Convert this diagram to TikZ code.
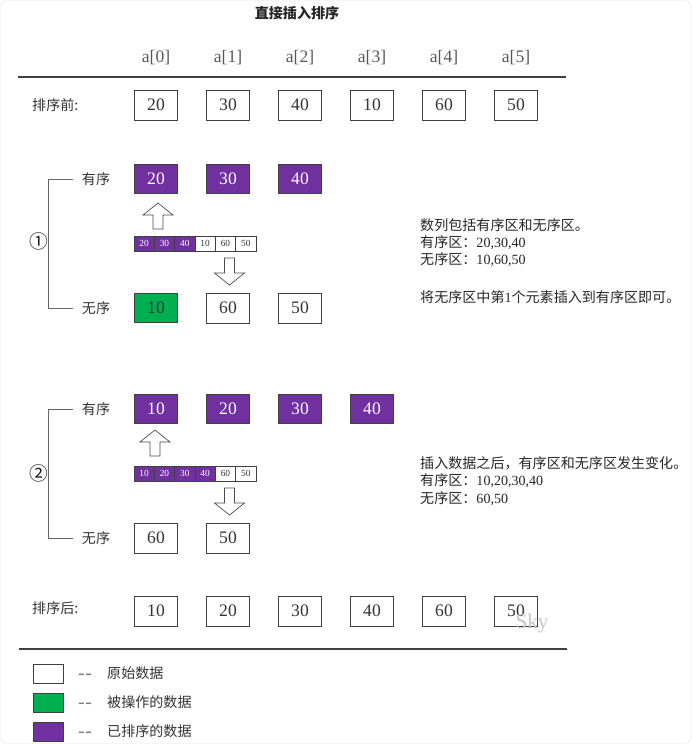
\documentclass[tikz,border=0pt]{standalone}
\usepackage{fontspec}
\setmainfont{Liberation Serif}
\newfontfamily\cjk{Noto Sans CJK SC}
\usetikzlibrary{positioning,calc}

\definecolor{sortpurple}{HTML}{7030A0}
\definecolor{opgreen}{HTML}{00B050}
\definecolor{boxline}{HTML}{404040}

\begin{document}
\begin{tikzpicture}[
  x=0.03cm, y=-0.03cm,
  every node/.style={inner sep=0pt, text=black!80},
  rawbox/.style={draw=boxline, line width=0.8pt, minimum width=1.3cm, minimum height=0.9cm,
                 font=\fontsize{15}{15}\selectfont, fill=white},
  sortbox/.style={rawbox, fill=sortpurple, text=white, minimum height=0.87cm},
  opbox/.style={rawbox, fill=opgreen, text=black!80, minimum height=0.87cm},
  cellraw/.style={draw=boxline, line width=0.5pt, minimum width=0.61cm, minimum height=0.45cm,
                  font=\fontsize{8}{8}\selectfont, fill=white},
  cellsort/.style={cellraw, fill=sortpurple, text=white},
  idx/.style={font=\fontsize{15}{15}\selectfont, text=black!65},
  lbl/.style={font=\cjk\fontsize{12}{12}\selectfont, text=black!80},
  stepno/.style={font=\cjk\fontsize{16}{16}\selectfont, text=black!90},
  notetxt/.style={anchor=west, font=\fontsize{12}{12}\selectfont, text=black!85},
  keybox/.style={draw=boxline, line width=0.6pt, minimum width=0.9cm, minimum height=0.57cm},
  hrule/.style={line width=1.6pt, black!75},
  brk/.style={line width=0.8pt, black!60},
  blockarr/.style={draw=black!70, line width=0.6pt, fill=white, line join=miter},
]
\useasboundingbox (0,0) rectangle (692,744);
\draw[black!10, rounded corners=6pt] (0.5,0.5) rectangle (691.5,743.5);

%% --- title and index row ---
\node[font=\cjk\bfseries\fontsize{12}{12}\selectfont, text=black!85] (title) at (297,13) {直接插入排序};
\foreach \n [count=\i from 0] in {156,228,300,372,444,516}
  \node[idx] (a\i) at (\n,58) {a[\i]};
\coordinate (ruleAL) at (18,77);
\coordinate (ruleAR) at (566,77);
\draw[hrule] (ruleAL) -- (ruleAR);

%% --- before sorting ---
\node[lbl, anchor=west] (before) at (32,105) {排序前:};
\foreach \v [count=\i] in {20,30,40,10,60,50}
  \node[rawbox] (b\i) at ({84+72*\i},105) {\v};

%% --- step 1 ---
\node[lbl] (ordA) at (96,179) {有序};
\node[lbl] (unA)  at (96,308) {无序};
\draw[brk] ($(ordA.west)+(-9,0)$) -- ++(-24,0) |- ($(unA.west)+(-9,0)$);
\node[stepno] (stepA) at (39,241) {①};

\node[sortbox] (sA1) at (156,179) {20};
\node[sortbox] (sA2) at (228,179) {30};
\node[sortbox] (sA3) at (300,179) {40};
\node[opbox]   (uA1) at (156,308) {10};
\node[rawbox]  (uA2) at (228,308) {60};
\node[rawbox]  (uA3) at (300,308) {50};

\draw[blockarr] (158,203) -- ++(15,12) -- ++(-10,0) -- ++(0,14) -- ++(-10,0)
  -- ++(0,-14) -- ++(-10,0) -- cycle;
\foreach \v/\s [count=\i] in {20/cellsort,30/cellsort,40/cellsort,10/cellraw,60/cellraw,50/cellraw}
  \node[\s] (cA\i) at ({134+20.33*(\i-0.5)},243.5) {\v};
\draw[blockarr] (229.5,285) -- ++(15,-12) -- ++(-10,0) -- ++(0,-15) -- ++(-10,0)
  -- ++(0,15) -- ++(-10,0) -- cycle;

\node[notetxt] (noteA1) at (420,225) {\cjk 数列包括有序区和无序区。};
\node[notetxt] (noteA2) at (420,243) {{\cjk 有序区：}20,30,40};
\node[notetxt] (noteA3) at (420,260) {{\cjk 无序区：}10,60,50};
\node[notetxt] (noteA4) at (420,297) {{\cjk 将无序区中第}1{\cjk 个元素插入到有序区即可。}};

%% --- step 2 ---
\node[lbl] (ordB) at (96,409) {有序};
\node[lbl] (unB)  at (96,538) {无序};
\draw[brk] ($(ordB.west)+(-9,0)$) -- ++(-24,0) |- ($(unB.west)+(-9,0)$);
\node[stepno] (stepB) at (39,473) {②};

\node[sortbox] (sB1) at (156,409) {10};
\node[sortbox] (sB2) at (228,409) {20};
\node[sortbox] (sB3) at (300,409) {30};
\node[sortbox] (sB4) at (372,409) {40};
\node[rawbox]  (uB1) at (156,538) {60};
\node[rawbox]  (uB2) at (228,538) {50};

\draw[blockarr] (155,430) -- ++(15,12) -- ++(-10,0) -- ++(0,14) -- ++(-10,0)
  -- ++(0,-14) -- ++(-10,0) -- cycle;
\foreach \v/\s [count=\i] in {10/cellsort,20/cellsort,30/cellsort,40/cellsort,60/cellraw,50/cellraw}
  \node[\s] (cB\i) at ({134+20.33*(\i-0.5)},473.5) {\v};
\draw[blockarr] (229.5,515) -- ++(15,-12) -- ++(-10,0) -- ++(0,-15) -- ++(-10,0)
  -- ++(0,15) -- ++(-10,0) -- cycle;

\node[notetxt] (noteB1) at (420,463) {\cjk 插入数据之后，有序区和无序区发生变化。};
\node[notetxt] (noteB2) at (420,481) {{\cjk 有序区：}10,20,30,40};
\node[notetxt] (noteB3) at (420,499) {{\cjk 无序区：}60,50};

%% --- after sorting ---
\node[lbl, anchor=west] (after) at (32,608) {排序后:};
\foreach \v [count=\i] in {10,20,30,40,60,50}
  \node[rawbox] (e\i) at ({84+72*\i},611) {\v};
\node[font=\fontsize{18}{18}\selectfont, text=black!22] (sky) at (532,623) {Sky};
\coordinate (ruleBL) at (19,649);
\coordinate (ruleBR) at (567,649);
\draw[hrule] (ruleBL) -- (ruleBR);

%% --- legend ---
\node[keybox, fill=white]      (keyraw)  at (48,673.5) {};
\node[keybox, fill=opgreen]    (keyop)   at (48,702.5) {};
\node[keybox, fill=sortpurple] (keysort) at (48,731.5) {};
\foreach \k/\t in {keyraw/原始数据,keyop/被操作的数据,keysort/已排序的数据} {
  \node[font=\fontsize{17}{17}\selectfont, text=black!50] (\k-dash) at ($(\k)+(37,3)$) {-{}\kern0.5pt-};
  \node[lbl, anchor=west] (\k-txt) at ($(\k)+(59,0)$) {\t};
}
\end{tikzpicture}
\end{document}
